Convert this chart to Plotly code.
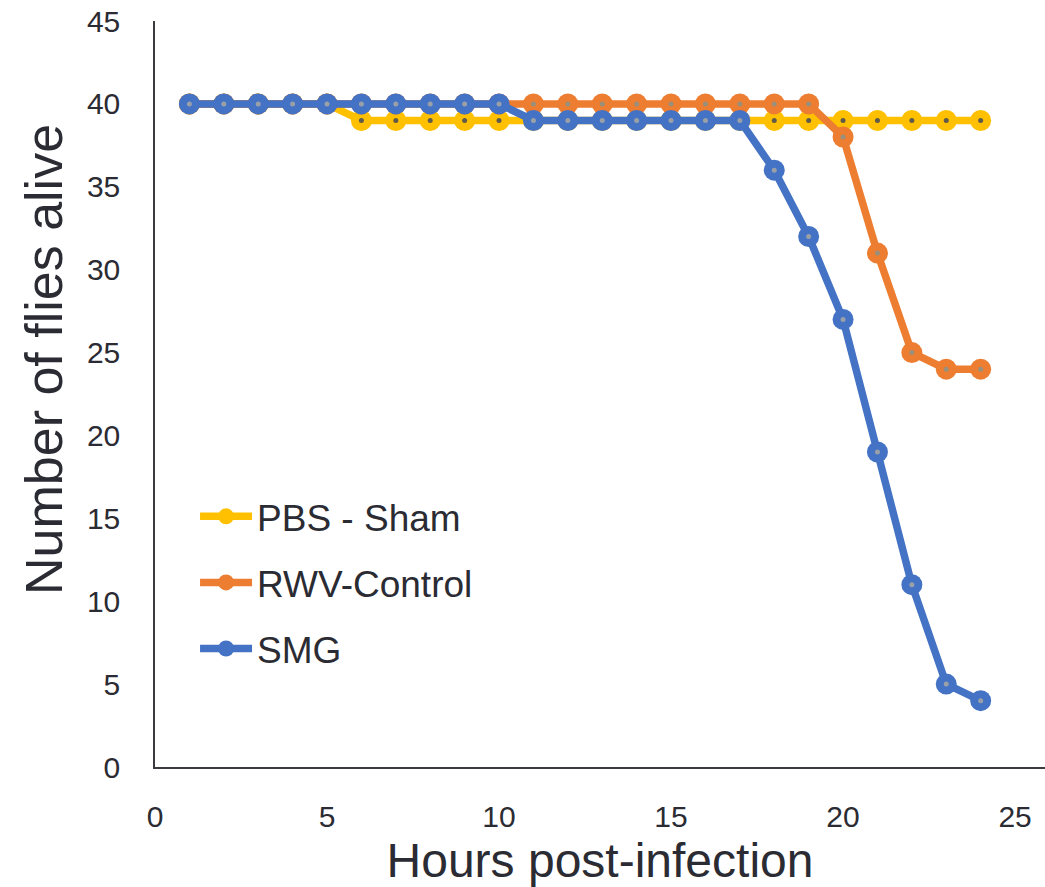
import plotly.graph_objects as go

hours = list(range(1, 25))
pbs_sham = [40, 40, 40, 40, 40, 39, 39, 39, 39, 39, 39, 39, 39, 39, 39, 39, 39, 39, 39, 39, 39, 39, 39, 39]
rwv_control = [40, 40, 40, 40, 40, 40, 40, 40, 40, 40, 40, 40, 40, 40, 40, 40, 40, 40, 40, 38, 31, 25, 24, 24]
smg = [40, 40, 40, 40, 40, 40, 40, 40, 40, 40, 39, 39, 39, 39, 39, 39, 39, 36, 32, 27, 19, 11, 5, 4]

series = [
    ("PBS - Sham", pbs_sham, "#FFC000", "#5f5a4a"),
    ("RWV-Control", rwv_control, "#ED7D31", "#9a8f7a"),
    ("SMG", smg, "#4472C4", "#9aa0a8"),
]

fig = go.Figure()
for i, (name, vals, col, dot) in enumerate(series):
    fig.add_trace(go.Scatter(
        x=hours, y=vals, name=name, mode="lines+markers",
        line=dict(color=col, width=7.5),
        marker=dict(color=col, size=21, line=dict(width=0)),
        legendgroup=f"g{i}",
    ))
    fig.add_trace(go.Scatter(
        x=hours, y=vals, mode="markers", showlegend=False,
        marker=dict(color=dot, size=5, line=dict(width=0)),
        hoverinfo="skip", legendgroup=f"g{i}",
    ))

font_family = "Liberation Sans, Arial, sans-serif"
txt = "#2b2b33"
fig.update_layout(
    width=1045, height=887,
    margin=dict(l=155, r=0, t=21, b=120),
    plot_bgcolor="white", paper_bgcolor="white",
    font=dict(family=font_family, color=txt),
    showlegend=True,
    legend=dict(
        x=0.045, y=0.377, xanchor="left", yanchor="top",
        font=dict(size=37, color=txt),
        tracegroupgap=15, itemwidth=52,
        bgcolor="rgba(0,0,0,0)",
    ),
    xaxis=dict(
        range=[0, 25.87], tickvals=[0, 5, 10, 15, 20, 25],
        showgrid=False, zeroline=False,
        showline=True, linecolor="#3a3a40", linewidth=1.5,
        ticks="", ticklabelstandoff=22,
        tickfont=dict(size=30, color=txt),
        title=dict(text="Hours post-infection", font=dict(size=48, color=txt), standoff=14),
    ),
    yaxis=dict(
        range=[0, 45], tickvals=[0, 5, 10, 15, 20, 25, 30, 35, 40, 45],
        showgrid=False, zeroline=False,
        showline=True, linecolor="#3a3a40", linewidth=1.5,
        ticks="", ticklabelstandoff=27,
        tickfont=dict(size=30, color=txt),
    ),
    annotations=[dict(
        text="Number of flies alive", textangle=-90,
        xref="paper", yref="paper", x=-0.1247, y=0.5456,
        xanchor="center", yanchor="middle", showarrow=False,
        font=dict(size=52, color=txt),
    )],
)

fig.write_html("out.html")
